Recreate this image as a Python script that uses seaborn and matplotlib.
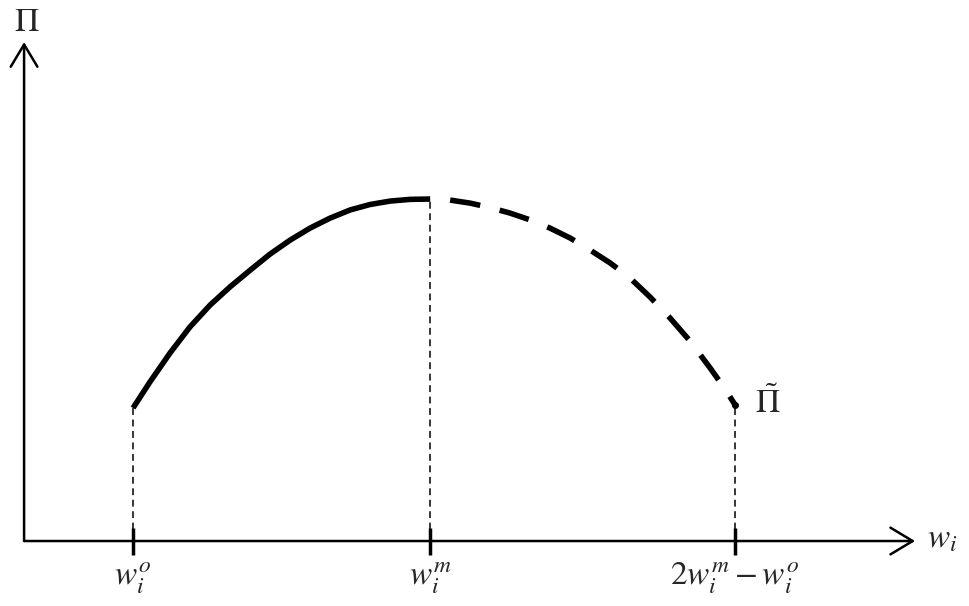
import numpy as np
import pandas as pd
import matplotlib
matplotlib.use("Agg")
import matplotlib.pyplot as plt
import seaborn as sns

# key wage points on the horizontal axis (w_o, w_m, 2w_m - w_o)
w_points = [1.0, 1.987, 3.0]
w_labels = [r"$w_i^o$", r"$w_i^m$", r"$2w_i^m - w_i^o$"]

# profit curve: rising part (solid) up to w_m
w_rise = [1.0, 1.056, 1.123, 1.189, 1.256, 1.322, 1.389, 1.455, 1.522,
          1.588, 1.654, 1.721, 1.787, 1.854, 1.920, 1.987]
pi_rise = [0.389, 0.465, 0.550, 0.626, 0.690, 0.743, 0.792, 0.839, 0.880,
           0.915, 0.944, 0.968, 0.984, 0.994, 0.999, 1.0]

# falling part (dashed) after w_m
w_fall = [1.987, 2.053, 2.120, 2.186, 2.252, 2.319, 2.385, 2.452, 2.518,
          2.585, 2.651, 2.718, 2.784, 2.850, 2.917, 2.967, 3.0]
pi_fall = [1.0, 0.997, 0.988, 0.975, 0.959, 0.939, 0.915, 0.886, 0.851,
           0.813, 0.769, 0.713, 0.652, 0.585, 0.506, 0.444, 0.398]

# profit at each key point (vertical guide heights)
pi_points = [0.389, 1.0, 0.398]

df_rise = pd.DataFrame({"w": w_rise, "pi": pi_rise})
df_fall = pd.DataFrame({"w": w_fall, "pi": pi_fall})

sns.set_theme(style="white")
plt.rcParams["mathtext.fontset"] = "stix"
plt.rcParams["font.family"] = ["DejaVu Serif"]

fig = plt.figure(figsize=(9.69, 6.06), dpi=100)
ax = fig.add_axes([0, 0, 1, 1])
ax.set_xlim(0.558, 3.777)
ax.set_ylim(-0.190, 1.582)
ax.axis("off")

# curves
sns.lineplot(data=df_rise, x="w", y="pi", ax=ax, color="black", lw=4,
             solid_capstyle="butt", sort=False)
sns.lineplot(data=df_fall, x="w", y="pi", ax=ax, color="black", lw=4,
             sort=False, linestyle=(5.5, (5.5, 3.6)))
ax.plot(w_fall[-1], pi_fall[-1], marker="o", ms=4, color="black")

# axes with arrows
x0, x1 = 0.638, 3.598
y_top = 1.459
arrow = dict(arrowstyle="->, head_length=0.5, head_width=0.3", lw=1.8,
             color="black", mutation_scale=32, shrinkA=0, shrinkB=0)
ax.annotate("", xy=(x1, 0), xytext=(x0, 0), arrowprops=arrow)
ax.annotate("", xy=(x0, y_top), xytext=(x0, 0), arrowprops=arrow)

# guide lines and ticks
ax.vlines(w_points, 0, pi_points, colors="black", lw=1.1,
          linestyles=[(0, (4.5, 3))])
ax.vlines(w_points, -0.041, 0.038, colors="black", lw=2.5)

for w, lab in zip(w_points, w_labels):
    ax.text(w, -0.13, lab, ha="center", va="baseline", fontsize=24)

ax.text(0.648, 1.518, r"$\Pi$", ha="center", va="center", fontsize=24)
ax.text(3.638, -0.02, r"$w_i$", ha="left", va="baseline", fontsize=24)
ax.text(3.11, 0.404, r"$\tilde{\Pi}$", ha="center", va="center", fontsize=24)

fig.savefig("out.png", dpi=100)
